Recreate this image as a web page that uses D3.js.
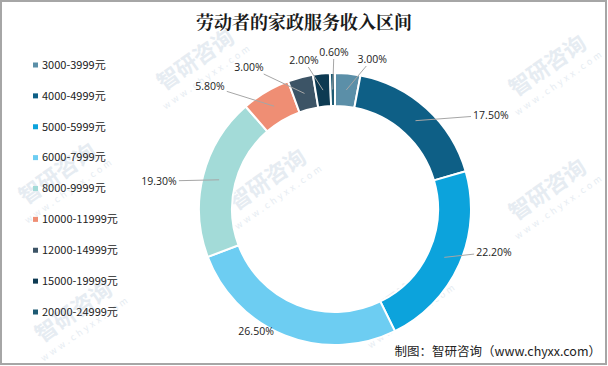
<!DOCTYPE html>
<html><head><meta charset="utf-8">
<script src="https://cdn.jsdelivr.net/npm/d3@7"></script>
<style>html,body{margin:0;padding:0;background:#fff;}svg{display:block;}</style>
</head><body>
<svg id="chart" width="608" height="366"></svg>
<script>
// ---- data ----
const categories = ["3000-3999元","4000-4999元","5000-5999元","6000-7999元","8000-9999元","10000-11999元","12000-14999元","15000-19999元","20000-24999元"];
const values = [3.00, 17.50, 22.20, 26.50, 19.30, 5.80, 3.00, 2.00, 0.60];
const colors = ["#5b8fa8","#0e5f86","#0ca3dc","#6dcdf2","#a3dbd8","#ef8e74","#3c5466","#0d3a52","#1d5a73"];
// label placement (polar: angle in degrees clockwise from top, radius in px)
const labelAngles = [13.9, 58.9, 105.1, 212.9, 279.0, 314.5, 328.8, 348.2, 359.6];
const labelRadii  = [154.5, 182, 164.7, 145.3, 178.2, 175.4, 166, 152.2, 157];
const title = "劳动者的家政服务收入区间";
const source = "制图：智研咨询（www.chyxx.com）";

const W = 608, H = 366;
const cx = 335, cy = 209, outerR = 136, innerR = 103;
const svg = d3.select("#chart");
const font = "'Noto Sans CJK SC','Open Sans',sans-serif";

// watermarks (faint)
const wmPos = [[200,66],[552,72],[62,180],[272,186],[552,196],[78,318],[405,305]];
const wm = svg.append("g").attr("fill","#e6ecf2").attr("font-family",font);
wmPos.forEach(p=>{
  const g = wm.append("g").attr("transform",`translate(${p[0]},${p[1]}) rotate(-35)`);
  g.append("text").attr("text-anchor","middle").attr("font-size",22).attr("font-weight","bold").text("智研咨询");
  g.append("text").attr("text-anchor","middle").attr("y",16).attr("font-size",9).attr("letter-spacing",3).text("www.chyxx.com");
});

// border
svg.append("rect").attr("x",1).attr("y",1).attr("width",W-3).attr("height",H-3)
  .attr("fill","none").attr("stroke","#a6a6a6").attr("stroke-width",2);

// title
svg.append("text").attr("x",304).attr("y",29).attr("text-anchor","middle")
  .attr("font-family","'Noto Serif CJK SC','Noto Sans CJK SC',serif").attr("font-size",18).attr("font-weight","bold")
  .attr("fill","#1a1a1a").text(title);

// pie
const pie = d3.pie().sort(null).value(d=>d);
const arcs = pie(values);
const arc = d3.arc().innerRadius(innerR).outerRadius(outerR);
const g = svg.append("g").attr("transform",`translate(${cx},${cy})`);
g.selectAll("path.slice").data(arcs).join("path").attr("class","slice")
  .attr("d",arc).attr("fill",(d,i)=>colors[i]).attr("stroke","#fff").attr("stroke-width",2);

// labels + leader lines
const midR = (innerR+outerR)/2;
const fmt = d3.format(".2f");
arcs.forEach((d,i)=>{
  const a = (d.startAngle+d.endAngle)/2;
  const p0 = [midR*Math.sin(a), -midR*Math.cos(a)];
  const la = labelAngles[i]*Math.PI/180, lr = labelRadii[i];
  const lc = [lr*Math.sin(la), -lr*Math.cos(la)];
  const t = g.append("text").attr("x",lc[0]).attr("y",lc[1]).attr("dy","0.35em")
    .attr("text-anchor","middle").attr("font-family","'Open Sans',sans-serif").attr("font-size",10.5)
    .attr("fill","#222").text(fmt(values[i])+"%");
  const bb = t.node().getBBox();
  const hw = bb.width/2+2, hh = bb.height/2;
  const dx = p0[0]-lc[0], dy = p0[1]-lc[1];
  const s = Math.min(Math.abs(dx)>0?hw/Math.abs(dx):Infinity, Math.abs(dy)>0?hh/Math.abs(dy):Infinity);
  const pe = [lc[0]+dx*s, lc[1]+dy*s];
  if (lr - outerR > 12) {
    g.insert("line","text").attr("x1",p0[0]).attr("y1",p0[1]).attr("x2",pe[0]).attr("y2",pe[1])
      .attr("stroke","#a6a6a6").attr("stroke-width",1);
  }
});

// legend
const leg = svg.append("g").attr("font-family",font).attr("font-size",11).attr("fill","#222");
const ly = d3.scalePoint().domain(categories).range([65,312]);
categories.forEach((c,i)=>{
  leg.append("rect").attr("x",33).attr("y",ly(c)-2.5).attr("width",5).attr("height",5).attr("fill",colors[i]);
  leg.append("text").attr("x",42).attr("y",ly(c)).attr("dy","0.35em").text(c);
});

// source
svg.append("text").attr("x",601).attr("y",352).attr("dy","0.35em").attr("text-anchor","end")
  .attr("font-family",font).attr("font-size",12.5).attr("fill","#222").text(source);
</script>
</body></html>
